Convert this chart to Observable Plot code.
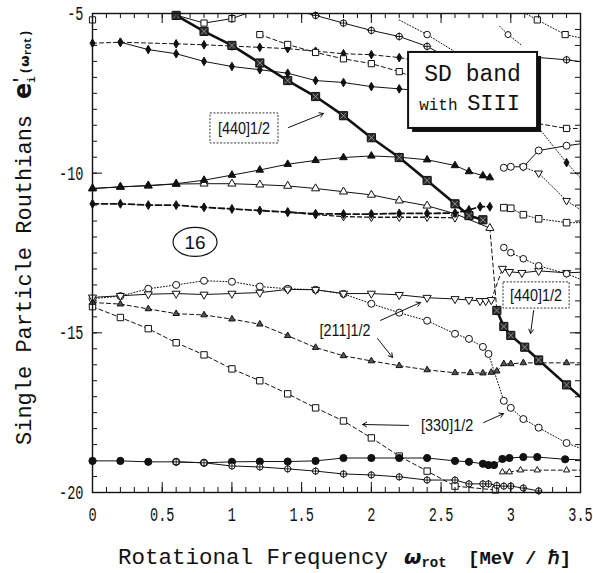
<!DOCTYPE html>
<html>
<head>
<meta charset="utf-8">
<script src="https://cdn.jsdelivr.net/npm/d3@7"></script>
<script src="https://cdn.jsdelivr.net/npm/@observablehq/plot@0.6"></script>
<style>
html,body{margin:0;padding:0;background:#fff;}
#chart{width:593px;height:573px;}
</style>
</head>
<body>
<div id="chart"></div>
<script>
// ---------- tick labels ----------
const xTickLabels = [0, 0.5, 1, 1.5, 2, 2.5, 3, 3.5];
const yTickLabels = [-5, -10, -15, -20];

// ---------- series values (omega_rot, routhian) ----------
// [440]1/2 thick line, filled squares
const x440a = [0.4,0.6,0.8,1.0,1.2,1.4,1.6,1.8,2.0,2.2,2.4,2.6,2.7,2.8];
const y440a = [-4.56,-5.06,-5.56,-6.0,-6.55,-7.1,-7.6,-8.2,-8.89,-9.51,-10.23,-10.96,-11.33,-11.46];
const x440b = [2.9,2.95,3.0,3.1,3.2,3.4,3.52];
const y440b = [-14.3,-14.8,-15.08,-15.45,-15.85,-16.63,-17.08];
// filled up-triangles, solid
const xFT = [0,0.2,0.4,0.6,0.8,1.0,1.2,1.4,1.6,1.8,2.0,2.2,2.4,2.6,2.7,2.8,2.85];
const yFT = [-10.48,-10.43,-10.39,-10.33,-10.22,-10.06,-9.9,-9.72,-9.6,-9.51,-9.46,-9.5,-9.58,-9.76,-9.95,-10.08,-10.14];
// open up-triangles, solid
const xOT = [0,0.2,0.4,0.6,0.8,1.0,1.2,1.4,1.6,1.8,2.0,2.2,2.4,2.6,2.85];
const yOT = [-10.48,-10.43,-10.39,-10.34,-10.33,-10.33,-10.36,-10.4,-10.48,-10.58,-10.68,-10.86,-11.02,-11.27,-11.72];
// dashed link open triangle -> [440]
const xL1 = [2.85,2.9];
const yL1 = [-11.72,-14.3];
// filled diamonds, thick dashed (~ -11)
const xFD = [0,0.2,0.4,0.6,0.8,1.0,1.2,1.4,1.6,1.8,2.0,2.2,2.4,2.6,2.7,2.78,2.85];
const yFD = [-10.96,-10.96,-11.0,-11.0,-11.07,-11.12,-11.17,-11.22,-11.27,-11.28,-11.28,-11.26,-11.26,-11.25,-11.15,-11.05,-11.05];
// open diamonds, dashed (partner)
const xOD = [1.4,1.6,1.8,2.0,2.2,2.4,2.6];
const yOD = [-11.22,-11.3,-11.36,-11.38,-11.38,-11.38,-11.4];
// open squares, dotted (right, ~ -11.1)
const xOS = [2.95,3.0,3.09,3.2,3.4,3.52];
const yOS = [-11.08,-11.1,-11.3,-11.43,-11.55,-11.55];
// top filled diamonds, dashed (~ -6)
const xTD = [0,0.2,0.6,0.8,1.0,1.2,1.4,1.6,1.8,2.0,2.2,2.35];
const yTD = [-5.93,-5.9,-5.95,-5.98,-6.02,-6.06,-6.1,-6.18,-6.26,-6.29,-6.38,-6.5];
// top filled diamonds, solid
const xSD = [0.2,0.4,0.6,0.8,1.0,1.2,1.4,1.6,1.8,2.0,2.2,2.35];
const ySD = [-5.9,-6.13,-6.26,-6.5,-6.66,-6.76,-6.87,-7.1,-7.16,-7.29,-7.36,-7.42];
// top open squares, dashed
const xDS = [1.2,1.4,1.6,1.8,2.0,2.2,3.0,3.4,3.52];
const yDS = [-5.66,-5.97,-6.22,-6.42,-6.57,-6.82,-8.3,-8.6,-8.6];
// circle-plus line, solid (top)
const xPC = [1.4,1.6,1.8,2.0,2.2,2.4,2.6,3.15,3.4,3.52];
const yPC = [-4.85,-5.06,-5.3,-5.53,-5.72,-6.03,-6.5,-6.36,-6.45,-6.52];
// thin solid open squares (top left)
const xTS = [0.6,0.8,1.0,1.2];
const yTS = [-5.05,-5.3,-5.16,-4.85];
// lone open square on left axis
const xTL = [0];
const yTL = [-5.2];
// dotted trails near the top
const xC1 = [2.2,2.4,2.6];
const yC1 = [-5.2,-5.66,-6.2];
const xM1 = [2.4];
const yM1 = [-5.66];
const xC2 = [2.92,2.98,3.08];
const yC2 = [-5.4,-5.66,-6.0];
const xM2 = [2.98];
const yM2 = [-5.66];
// dotted open squares top right
const xQ = [3.0,3.19,3.39,3.52];
const yQ = [-4.75,-5.2,-5.66,-5.78];
// open circles solid (right, ~ -9.5)
const xR = [2.95,3.0,3.09,3.2,3.4,3.52];
const yR = [-9.83,-9.8,-9.8,-9.29,-9.14,-9.07];
// dotted open down-triangles (right)
const xS = [3.09,3.2,3.4,3.52];
const yS = [-9.8,-10.0,-10.86,-11.2];
// dotted filled diamonds (right)
const xT = [3.0,3.4,3.52];
const yT = [-7.5,-9.67,-10.25];
// open down-triangles solid (~ -14)
const xU = [0,0.2,0.4,0.6,0.8,1.0,1.2,1.4,1.6,1.8,2.0,2.2,2.4,2.6,2.7,2.78,2.82,2.86];
const yU = [-13.89,-13.84,-13.79,-13.77,-13.8,-13.77,-13.74,-13.64,-13.65,-13.77,-13.77,-13.81,-13.9,-13.94,-13.97,-14.0,-14.0,-13.97];
const xL2 = [2.86,2.94];
const yL2 = [-13.97,-12.99];
const xW = [2.94,2.99,3.08,3.2,3.4,3.52];
const yW = [-12.99,-13.09,-13.12,-13.06,-13.12,-13.1];
// [330]1/2 open circles dotted
const xX = [0,0.2,0.4,0.6,0.8,1.0,1.2,1.4,1.6,1.8,2.0,2.2,2.4,2.6,2.7,2.8,2.84,2.95,3.0,3.09,3.2,3.4,3.52];
const yX = [-13.93,-13.85,-13.62,-13.5,-13.37,-13.4,-13.55,-13.62,-13.65,-13.78,-14.09,-14.37,-14.62,-15.03,-15.19,-15.44,-15.66,-17.13,-17.35,-17.7,-17.97,-18.45,-18.65];
// open circles dotted (right, ~ -12.5)
const xY = [2.95,3.0,3.09,3.2,3.4,3.52];
const yY = [-12.33,-12.49,-12.68,-12.9,-13.15,-13.36];
// [211]1/2 dashed, small hatched triangles
const xZ = [0,0.2,0.4,0.6,0.8,1.0,1.2,1.4,1.6,1.8,2.0,2.2,2.4,2.6,2.71,2.8,2.86,2.9,2.95,3.0,3.09,3.2,3.4,3.52];
const yZ = [-14.05,-14.1,-14.25,-14.4,-14.44,-14.57,-14.73,-15.09,-15.46,-15.72,-15.88,-16.03,-16.16,-16.25,-16.25,-16.26,-16.24,-16.2,-15.97,-15.97,-15.94,-15.94,-15.94,-15.94];
// dashed open squares descending
const xAA = [0,0.2,0.4,0.6,0.8,1.0,1.2,1.4,1.6,1.8,2.0,2.2,2.4,2.6,2.89];
const yAA = [-14.18,-14.52,-14.87,-15.31,-15.69,-16.13,-16.5,-16.91,-17.35,-17.76,-18.29,-18.86,-19.33,-19.8,-19.92];
// filled circles solid (~ -19)
const xBB = [0,0.2,0.4,0.6,0.8,1.0,1.2,1.4,1.6,1.8,2.0,2.2,2.4,2.6,2.7,2.8,2.84,2.88,2.94,2.99,3.09,3.19,3.39,3.52];
const yBB = [-19.01,-19.01,-19.04,-19.04,-19.07,-19.04,-19.03,-19.03,-19.01,-18.92,-18.92,-18.92,-18.92,-19.01,-19.04,-19.1,-19.14,-19.14,-18.95,-18.92,-18.89,-18.89,-18.96,-18.98];
// open circle-plus solid (~ -19.5)
const xCC = [0.6,0.8,1.0,1.2,1.4,1.6,1.8,2.0,2.2,2.4,2.6,2.7,2.8,2.84,2.9,2.95,3.0,3.09,3.2];
const yCC = [-19.04,-19.07,-19.17,-19.2,-19.26,-19.33,-19.42,-19.45,-19.51,-19.61,-19.61,-19.73,-19.73,-19.73,-19.78,-19.8,-19.8,-19.86,-19.95];
// dashed small open triangles (~ -19.3)
const xDD = [2.94,2.99,3.07,3.19,3.4,3.52];
const yDD = [-19.36,-19.36,-19.3,-19.3,-19.3,-19.3];

// ---------- styles ----------
const dashes = {solid: null, dashed: "4,3", dotted: "1,2", thick: "6,3"};
const series = [
  {x: xAA, y: yAA, dash: "dashed", w: 1, sym: "square", r: 3.6, fill: "white"},
  {x: xX,  y: yX,  dash: "dotted", w: 1, sym: "circle", r: 3.5, fill: "white"},
  {x: xZ,  y: yZ,  dash: "dashed", w: 1, sym: "triangle", r: 2.4, fill: "#555"},
  {x: xU,  y: yU,  dash: "solid",  w: 1, sym: "triangle", r: 3, fill: "white", rot: 180},
  {x: xL2, y: yL2, dash: "dashed", w: 1},
  {x: xW,  y: yW,  dash: "solid",  w: 1, sym: "triangle", r: 3, fill: "white", rot: 180},
  {x: xY,  y: yY,  dash: "dotted", w: 1, sym: "circle", r: 3.3, fill: "white"},
  {x: xOT, y: yOT, dash: "solid",  w: 1, sym: "triangle", r: 3, fill: "white"},
  {x: xL1, y: yL1, dash: "dashed", w: 1},
  {x: xFT, y: yFT, dash: "solid",  w: 1, sym: "triangle", r: 2.8, fill: "#111"},
  {x: xOD, y: yOD, dash: "dashed", w: 1.3, sym: "diamond", r: 2.6, fill: "white"},
  {x: xFD, y: yFD, dash: "thick",  w: 1.8, sym: "diamond", r: 2.7, fill: "#111"},
  {x: xOS, y: yOS, dash: "dotted", w: 1, sym: "square", r: 3.7, fill: "white"},
  {x: xS,  y: yS,  dash: "dotted", w: 1, sym: "triangle", r: 2.8, fill: "white", rot: 180},
  {x: xR,  y: yR,  dash: "solid",  w: 1, sym: "circle", r: 3.5, fill: "white"},
  {x: xT,  y: yT,  dash: "dotted", w: 1, sym: "diamond", r: 2.6, fill: "#111"},
  {x: xTD, y: yTD, dash: "dashed", w: 1, sym: "diamond", r: 2.6, fill: "#111"},
  {x: xSD, y: ySD, dash: "solid",  w: 1, sym: "diamond", r: 2.6, fill: "#111"},
  {x: xDS, y: yDS, dash: "dashed", w: 1, sym: "square", r: 3.5, fill: "white"},
  {x: xPC, y: yPC, dash: "solid",  w: 1, sym: "circle", r: 3.2, fill: "white", plus: true},
  {x: xTS, y: yTS, dash: "solid",  w: 1, sym: "square", r: 3.5, fill: "white"},
  {x: xTL, y: yTL, dash: "solid",  w: 1, sym: "square", r: 3.5, fill: "white"},
  {x: xC1, y: yC1, dash: "dotted", w: 1},
  {x: xM1, y: yM1, dash: "solid",  w: 1, sym: "circle", r: 3.3, fill: "white"},
  {x: xC2, y: yC2, dash: "dotted", w: 1},
  {x: xM2, y: yM2, dash: "solid",  w: 1, sym: "circle", r: 3.0, fill: "white"},
  {x: xQ,  y: yQ,  dash: "dotted", w: 1, sym: "square", r: 3.5, fill: "white"},
  {x: xBB, y: yBB, dash: "solid",  w: 1, sym: "circle", r: 3.6, fill: "#111"},
  {x: xCC, y: yCC, dash: "solid",  w: 1, sym: "circle", r: 3.1, fill: "white", plus: true},
  {x: xDD, y: yDD, dash: "dashed", w: 1, sym: "triangle", r: 2.3, fill: "white"},
  {x: x440a, y: y440a, dash: "solid", w: 2.6, sym: "square", r: 4.6, fill: "#2a2a2a", hatch: true},
  {x: x440b, y: y440b, dash: "solid", w: 2.6, sym: "square", r: 4.6, fill: "#2a2a2a", hatch: true}
];

// ---------- geometry ----------
const W = 593, H = 573;
const mL = 92, mR = 13, mT = 13, mB = 81;
const innerW = W - mL - mR, innerH = H - mT - mB;
const xMinor = d3.range(1, 35).map(i => i / 10);
const xMajor = xTickLabels.slice(1, -1);
const yMinor = d3.range(-39, -10).map(i => i / 2);
const yMajor = yTickLabels.slice(1, -1);

const rows = s => s.x.map((x, i) => ({x, y: s.y[i]}));
const inside = d => d.x >= 0 && d.x <= 3.5 && d.y >= -20 && d.y <= -5;

const marks = [];
for (const s of series) {
  marks.push(Plot.line(rows(s), {x: "x", y: "y", stroke: "#111", strokeWidth: s.w,
    strokeDasharray: dashes[s.dash], clip: true}));
}
for (const s of series) {
  if (!s.sym) continue;
  const pts = rows(s).filter(inside);
  marks.push(Plot.dot(pts, {x: "x", y: "y", symbol: s.sym, r: s.r, fill: s.fill,
    stroke: "#111", strokeWidth: 1, rotate: s.rot || 0}));
  if (s.plus) marks.push(Plot.dot(pts, {x: "x", y: "y", symbol: "plus", r: s.r * 0.85, stroke: "#111", strokeWidth: 0.9}));
  if (s.hatch) marks.push(Plot.dot(pts, {x: "x", y: "y", symbol: "times", r: s.r * 0.6, stroke: "#aaa", strokeWidth: 0.8}));
}
// inward ticks on all four sides
marks.push(
  Plot.tickX(xMinor, {x: d => d, insetTop: innerH - 5, stroke: "#111"}),
  Plot.tickX(xMajor, {x: d => d, insetTop: innerH - 10, stroke: "#111"}),
  Plot.tickX(xMinor, {x: d => d, insetBottom: innerH - 5, stroke: "#111"}),
  Plot.tickX(xMajor, {x: d => d, insetBottom: innerH - 10, stroke: "#111"}),
  Plot.tickY(yMinor, {y: d => d, insetRight: innerW - 5, stroke: "#111"}),
  Plot.tickY(yMajor, {y: d => d, insetRight: innerW - 10, stroke: "#111"}),
  Plot.tickY(yMinor, {y: d => d, insetLeft: innerW - 5, stroke: "#111"}),
  Plot.tickY(yMajor, {y: d => d, insetLeft: innerW - 10, stroke: "#111"}),
  Plot.frame({stroke: "#111", strokeWidth: 1.4})
);

// ---------- annotations (data units) ----------
const box440top = {x1: 0.846, x2: 1.334, y1: -8.13, y2: -9.07};
const box440bot = {x1: 2.948, x2: 3.422, y1: -13.42, y2: -14.24};
const boxSD = {x1: 2.267, x2: 3.192, y1: -6.22, y2: -8.6};
const arrows = [
  {x1: 1.406, y1: -8.57, x2: 1.657, y2: -8.13},
  {x1: 2.066, y1: -14.61, x2: 2.353, y2: -14.05},
  {x1: 2.044, y1: -15.18, x2: 2.152, y2: -15.77},
  {x1: 2.267, y1: -17.9, x2: 1.937, y2: -17.87},
  {x1: 2.805, y1: -17.81, x2: 2.948, y2: -17.53},
  {x1: 3.164, y1: -14.3, x2: 3.142, y2: -15.02}
];
marks.push(
  Plot.arrow(arrows, {x1: "x1", y1: "y1", x2: "x2", y2: "y2", stroke: "#111", strokeWidth: 1, headLength: 7}),
  Plot.rect([box440top, box440bot], {x1: "x1", x2: "x2", y1: "y1", y2: "y2", fill: "white", stroke: "#333", strokeDasharray: "2,1.5"}),
  Plot.rect([boxSD], {x1: "x1", x2: "x2", y1: "y1", y2: "y2", fill: "#111", dx: 4, dy: 4}),
  Plot.rect([boxSD], {x1: "x1", x2: "x2", y1: "y1", y2: "y2", fill: "white", stroke: "#111", strokeWidth: 2})
);

const plot = Plot.plot({
  width: W, height: H,
  marginLeft: mL, marginRight: mR, marginTop: mT, marginBottom: mB,
  style: {fontFamily: "Liberation Mono", fontSize: "20px", background: "white", color: "#111"},
  x: {domain: [0, 3.5], ticks: xTickLabels, tickSize: 0, tickPadding: 14, tickFormat: d => String(d), label: null},
  y: {domain: [-20, -5], ticks: yTickLabels, tickSize: 0, tickPadding: 9, tickFormat: d => String(d), label: null},
  marks
});
document.getElementById("chart").appendChild(plot);

// condensed tick labels
plot.querySelectorAll('[aria-label^="x-axis"] text, [aria-label^="y-axis"] text').forEach(t => {
  const tr = t.getAttribute("transform") || "";
  t.setAttribute("transform", tr + " scale(0.68,1)");
});

const svg = d3.select(plot);
const sx = plot.scale("x"), sy = plot.scale("y");
const X = v => sx.apply(v), Y = v => sy.apply(v);

// text labels for annotations
function condensed(txt, x, y, size, sc) {
  svg.append("text").attr("transform", `translate(${x},${y}) scale(${sc},1)`)
    .attr("text-anchor", "middle").attr("font-family", "Liberation Sans")
    .attr("font-size", size).attr("fill", "#111").text(txt);
}
condensed("[440]1/2", X((box440top.x1 + box440top.x2) / 2), Y((box440top.y1 + box440top.y2) / 2) + 6, 16, 0.9);
condensed("[440]1/2", X((box440bot.x1 + box440bot.x2) / 2), Y((box440bot.y1 + box440bot.y2) / 2) + 6, 16, 0.9);
condensed("[211]1/2", X(1.815), Y(-14.93) + 6, 16, 0.9);
condensed("[330]1/2", X(2.547), Y(-17.9) + 6, 16, 0.9);

// SD band box text
const bx = (X(boxSD.x1) + X(boxSD.x2)) / 2, by = Y(boxSD.y1);
svg.append("text").attr("x", bx).attr("y", by + 29).attr("text-anchor", "middle")
  .attr("font-family", "Liberation Mono").attr("font-size", 23).attr("fill", "#111").text("SD band");
const t2 = svg.append("text").attr("x", bx - 3).attr("y", by + 58).attr("text-anchor", "middle")
  .attr("font-family", "Liberation Mono").attr("fill", "#111");
t2.append("tspan").attr("font-size", 16).text("with ");
t2.append("tspan").attr("font-size", 22).text("SIII");

// "16" in ellipse
svg.append("ellipse").attr("cx", X(0.739)).attr("cy", Y(-12.17)).attr("rx", 22).attr("ry", 14.5)
  .attr("fill", "white").attr("stroke", "#111").attr("stroke-width", 1.2);
svg.append("text").attr("x", X(0.739)).attr("y", Y(-12.17) + 7).attr("text-anchor", "middle")
  .attr("font-family", "Liberation Sans").attr("font-size", 19).attr("fill", "#111").text("16");

// axis titles
svg.append("text").attr("x", 118).attr("y", 564).attr("text-anchor", "start").attr("font-family", "Liberation Mono")
  .attr("font-size", 22.5).attr("fill", "#111").text("Rotational Frequency");
const om = svg.append("text").attr("x", 404).attr("y", 564).attr("text-anchor", "start").attr("font-family", "DejaVu Sans")
  .attr("font-weight", "bold").attr("fill", "#111");
om.append("tspan").attr("font-size", 20).attr("font-style", "italic").text("ω");
om.append("tspan").attr("font-size", 14).attr("font-family", "Liberation Mono").attr("dy", 3).text("rot");
svg.append("text").attr("x", 468).attr("y", 564).attr("text-anchor", "start").attr("font-family", "Liberation Mono")
  .attr("font-weight", "bold").attr("font-size", 19).attr("fill", "#111").text("[MeV / ℏ]");

const yl = svg.append("text").attr("transform", "translate(31,445) rotate(-90)").attr("text-anchor", "start")
  .attr("font-family", "Liberation Mono").attr("fill", "#111");
yl.append("tspan").attr("font-size", 22).text("Single Particle Routhians");
yl.append("tspan").attr("dx", 16).attr("font-size", 24).attr("font-weight", "bold").attr("font-family", "DejaVu Sans").text("e");
yl.append("tspan").attr("dx", -2).attr("dy", -6).attr("font-size", 16).attr("font-weight", "bold").text("′");
yl.append("tspan").attr("dx", -8).attr("dy", 10).attr("font-size", 11).attr("font-weight", "bold").text("i");
yl.append("tspan").attr("dx", 2).attr("dy", -6).attr("font-size", 13).attr("font-weight", "bold").text("(");
yl.append("tspan").attr("font-size", 13).attr("font-weight", "bold").attr("font-family", "DejaVu Sans").text("ω");
yl.append("tspan").attr("dy", 2).attr("font-size", 10).attr("font-weight", "bold").text("rot");
yl.append("tspan").attr("dy", -2).attr("font-size", 13).attr("font-weight", "bold").text(")");
</script>
</body>
</html>
